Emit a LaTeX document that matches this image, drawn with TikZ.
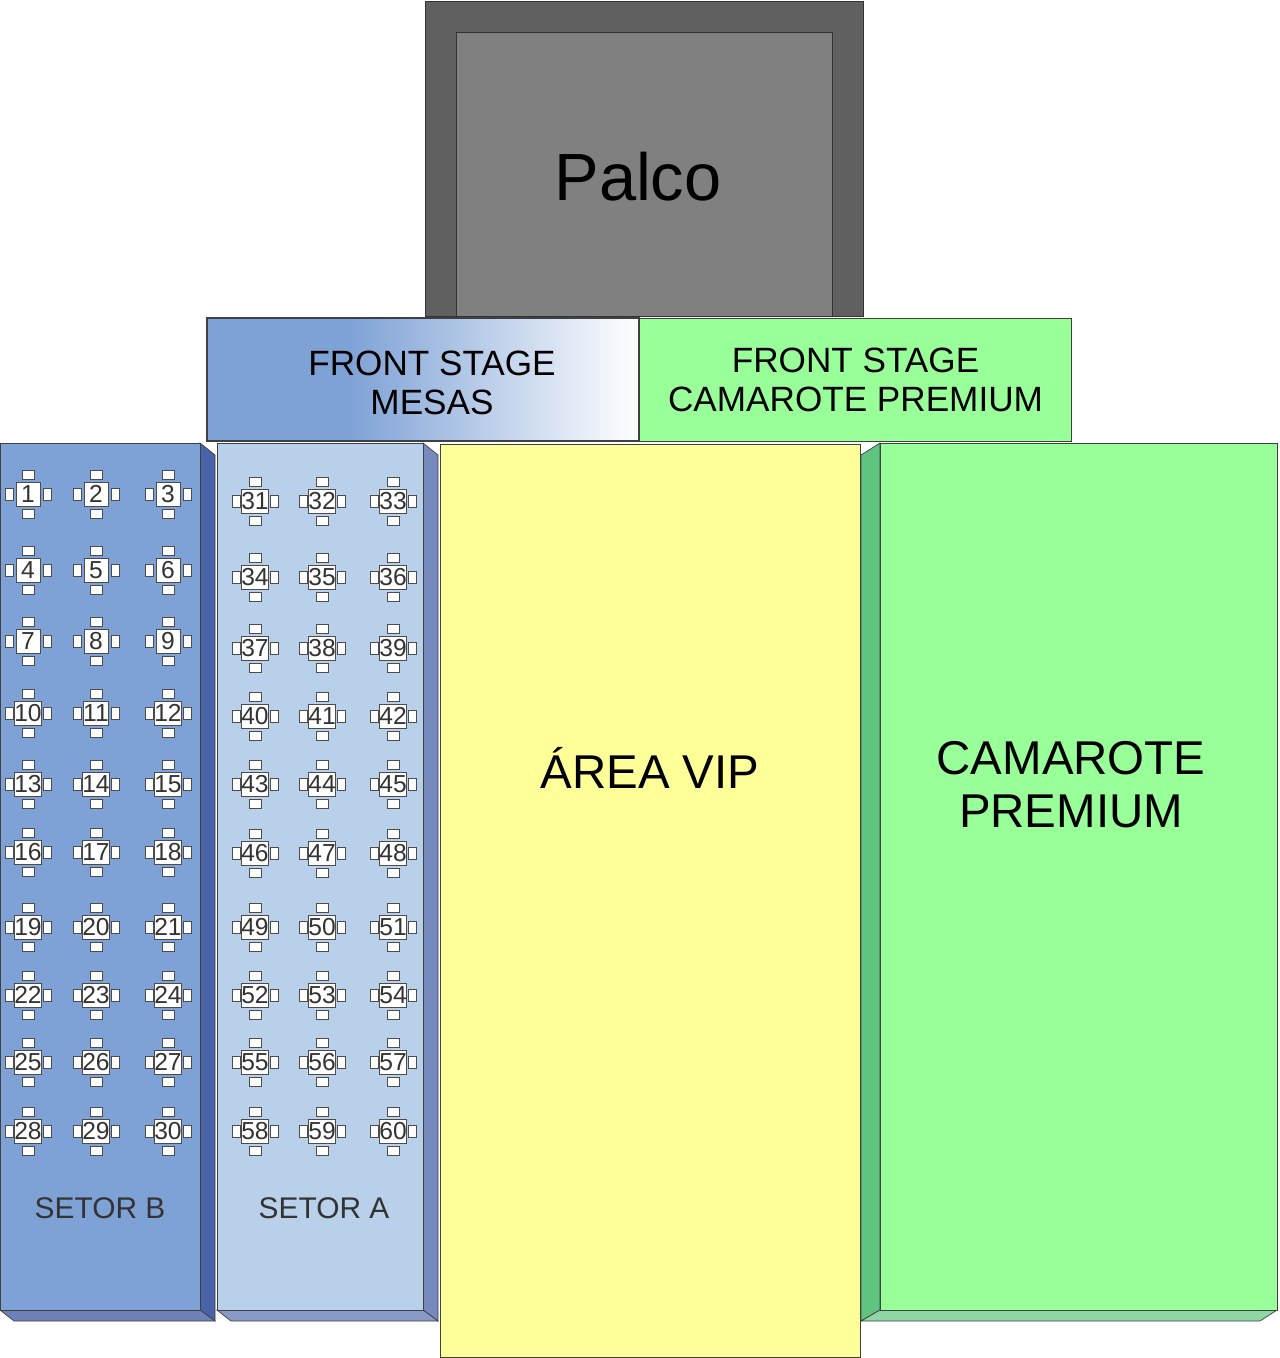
\documentclass[tikz,border=0pt]{standalone}
\usepackage{fontspec}
\setmainfont{Liberation Sans}
\definecolor{palcoO}{HTML}{606060}
\definecolor{palcoI}{HTML}{808080}
\definecolor{setB}{HTML}{7FA2D6}
\definecolor{setA}{HTML}{B8D0EA}
\definecolor{sideB}{HTML}{4A63A8}
\definecolor{vip}{HTML}{FFFF99}
\definecolor{grn}{HTML}{99FF99}
\definecolor{grnside}{HTML}{5FC47F}
\definecolor{txt}{HTML}{333333}
\begin{document}
\begin{tikzpicture}[x=0.02cm,y=-0.02cm,
  box/.style={draw=black!75,line width=0.6pt},
  lbl/.style={font=\fontsize{20}{22}\selectfont,align=center,text=black},
  tbl/.style={draw=black!70,fill=white,line width=0.4pt,minimum size=24*0.02cm,inner sep=0pt,font=\fontsize{14}{14}\selectfont,text=txt},
  chair/.style={draw=black!70,fill=white,line width=0.4pt}]
\useasboundingbox (0,0) rectangle (1279,1358);
% Palco
\fill[palcoO,draw=black!80] (425,1) rectangle (863,316);
\node[draw=black!80,fill=palcoI,minimum width=376*0.02cm,minimum height=284*0.02cm,anchor=north west,inner sep=0pt] (palco) at (456,32) {};
\node[font=\fontsize{38}{40}\selectfont] (palcot) at (638,177) {Palco};
% front stage
\shade[left color=setB,right color=white,middle color=setB!70,shading angle=90] (207,318) rectangle (639,441);
\fill[left color=setB,right color=setB] (207,318) rectangle (350,441);
\shade[left color=setB,right color=white] (350,318) rectangle (639,441);
\draw[box] (207,318) rectangle (639,441);
\node[lbl] (fsm) at (432,383) {FRONT STAGE\\ MESAS};
\node[box,fill=grn,minimum width=432*0.02cm,minimum height=123*0.02cm,anchor=north west,inner sep=0pt] (fsc) at (639,318) {};
\node[lbl] at (fsc.center) {FRONT STAGE\\CAMAROTE PREMIUM};
% Setor B
\fill[sideB,draw=black!75] (200,443) -- (215,455) -- (215,1321) -- (200,1310) -- cycle;
\fill[sideB!80,draw=black!75] (0,1310) -- (200,1310) -- (215,1321) -- (14,1321) -- cycle;
\node[box,fill=setB,minimum width=200*0.02cm,minimum height=867*0.02cm,anchor=north west,inner sep=0pt] (sb) at (0,443) {};
% Setor A
\fill[sideB!75,draw=black!75] (423,443) -- (438,455) -- (438,1321) -- (423,1310) -- cycle;
\fill[sideB!65,draw=black!75] (217,1310) -- (423,1310) -- (438,1321) -- (231,1321) -- cycle;
\node[box,fill=setA,minimum width=206*0.02cm,minimum height=867*0.02cm,anchor=north west,inner sep=0pt] (sa) at (217,443) {};
% Camarote premium
\fill[grnside,draw=black!75] (861,455) -- (880,443) -- (880,1310) -- (861,1321) -- cycle;
\fill[grnside!70,draw=black!75] (861,1321) -- (880,1310) -- (1277,1310) -- (1260,1321) -- cycle;
\node[box,fill=grn,minimum width=397*0.02cm,minimum height=867*0.02cm,anchor=north west,inner sep=0pt] (cp) at (880,443) {};
\node[font=\fontsize{27}{30}\selectfont,align=center] (cpt) at (1071,785) {CAMAROTE\\ PREMIUM};
% VIP
\node[box,fill=vip,minimum width=420*0.02cm,minimum height=913*0.02cm,anchor=north west,inner sep=0pt] (vipbox) at (440,444) {};
\node[font=\fontsize{27}{30}\selectfont] (vipt) at (650,768) {ÁREA VIP};
% sector labels
\node[font=\fontsize{17}{18}\selectfont,text=txt] (sbt) at (100,1208) {SETOR B};
\node[font=\fontsize{17}{18}\selectfont,text=txt] (sat) at (324,1208) {SETOR A};
% tables
\def\tablerow#1#2#3#4{%
 \foreach \xx [count=\c] in {#2} {%
  \pgfmathtruncatemacro{\num}{#1+\c-1}%
  \draw[chair] (\xx-6,#3-24) rectangle (\xx+6,#3-15);
  \draw[chair] (\xx-6,#3+15) rectangle (\xx+6,#3+24);
  \draw[chair] (\xx-23,#3-6) rectangle (\xx-15,#3+6);
  \draw[chair] (\xx+15,#3-6) rectangle (\xx+23,#3+6);
  \node[tbl] (t\num) at (\xx,#3) {\num};
 }}
\foreach \r/\yb/\ya in {0/494/501,1/570/577,2/641/648,3/713/716,4/784/784,5/852/853,6/927/927,7/995/995,8/1062/1062,9/1131/1131}{
  \pgfmathtruncatemacro{\nb}{1+3*\r}
  \pgfmathtruncatemacro{\na}{31+3*\r}
  \tablerow{\nb}{28,96,168}{\yb}{}
  \tablerow{\na}{255,322,393}{\ya}{}
}
\end{tikzpicture}
\end{document}
